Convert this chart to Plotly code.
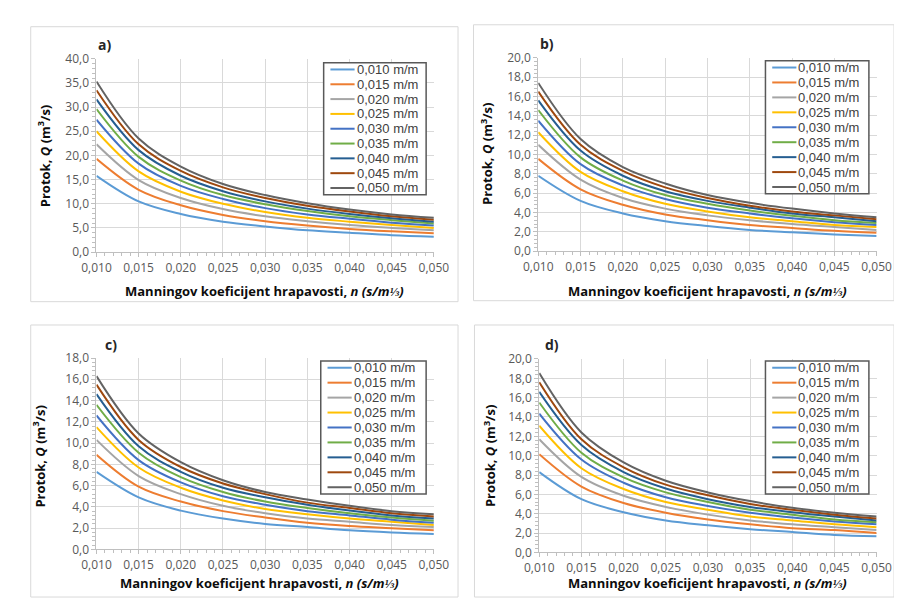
import plotly.graph_objects as go

# ---------------- data ----------------
n_values = [0.010, 0.015, 0.020, 0.025, 0.030, 0.035, 0.040, 0.045, 0.050]
slope_labels = ["0,010 m/m", "0,015 m/m", "0,020 m/m", "0,025 m/m", "0,030 m/m",
                "0,035 m/m", "0,040 m/m", "0,045 m/m", "0,050 m/m"]

q_a = [
    [15.8, 10.5, 7.9, 6.3, 5.3, 4.5, 4.0, 3.5, 3.2],
    [19.3, 12.9, 9.7, 7.7, 6.4, 5.5, 4.8, 4.3, 3.9],
    [22.3, 14.9, 11.2, 8.9, 7.4, 6.4, 5.6, 5.0, 4.5],
    [25.0, 16.7, 12.5, 10.0, 8.3, 7.1, 6.3, 5.6, 5.0],
    [27.4, 18.3, 13.7, 11.0, 9.1, 7.8, 6.9, 6.1, 5.5],
    [29.6, 19.7, 14.8, 11.8, 9.9, 8.5, 7.4, 6.6, 5.9],
    [31.6, 21.1, 15.8, 12.6, 10.5, 9.0, 7.9, 7.0, 6.3],
    [33.5, 22.3, 16.8, 13.4, 11.2, 9.6, 8.4, 7.4, 6.7],
    [35.3, 23.5, 17.7, 14.1, 11.8, 10.1, 8.8, 7.8, 7.1],
]
q_b = [
    [7.8, 5.2, 3.9, 3.1, 2.6, 2.2, 1.95, 1.73, 1.56],
    [9.55, 6.4, 4.8, 3.8, 3.2, 2.7, 2.4, 2.1, 1.9],
    [11.0, 7.4, 5.5, 4.4, 3.7, 3.2, 2.8, 2.5, 2.2],
    [12.3, 8.2, 6.2, 4.9, 4.1, 3.5, 3.1, 2.7, 2.5],
    [13.5, 9.0, 6.8, 5.4, 4.5, 3.9, 3.4, 3.0, 2.7],
    [14.6, 9.7, 7.3, 5.8, 4.9, 4.2, 3.65, 3.2, 2.9],
    [15.6, 10.4, 7.8, 6.2, 5.2, 4.5, 3.9, 3.5, 3.1],
    [16.5, 11.0, 8.3, 6.6, 5.5, 4.7, 4.1, 3.7, 3.3],
    [17.4, 11.6, 8.7, 7.0, 5.8, 5.0, 4.4, 3.9, 3.5],
]
q_c = [
    [7.3, 4.9, 3.65, 2.9, 2.4, 2.1, 1.8, 1.6, 1.46],
    [8.9, 5.9, 4.5, 3.6, 3.0, 2.5, 2.2, 2.0, 1.8],
    [10.3, 6.9, 5.2, 4.1, 3.4, 2.9, 2.6, 2.3, 2.1],
    [11.5, 7.7, 5.8, 4.6, 3.8, 3.3, 2.9, 2.6, 2.3],
    [12.6, 8.4, 6.3, 5.0, 4.2, 3.6, 3.2, 2.8, 2.5],
    [13.6, 9.1, 6.8, 5.4, 4.5, 3.9, 3.4, 3.0, 2.7],
    [14.6, 9.7, 7.3, 5.8, 4.9, 4.2, 3.65, 3.2, 2.9],
    [15.5, 10.3, 7.75, 6.2, 5.2, 4.4, 3.9, 3.4, 3.1],
    [16.3, 10.9, 8.2, 6.5, 5.4, 4.7, 4.1, 3.6, 3.3],
]
q_d = [
    [8.3, 5.5, 4.15, 3.3, 2.8, 2.4, 2.1, 1.8, 1.66],
    [10.15, 6.8, 5.1, 4.1, 3.4, 2.9, 2.5, 2.3, 2.0],
    [11.7, 7.8, 5.85, 4.7, 3.9, 3.3, 2.9, 2.6, 2.3],
    [13.1, 8.7, 6.55, 5.2, 4.4, 3.7, 3.3, 2.9, 2.6],
    [14.35, 9.6, 7.2, 5.7, 4.8, 4.1, 3.6, 3.2, 2.9],
    [15.5, 10.3, 7.75, 6.2, 5.2, 4.4, 3.9, 3.4, 3.1],
    [16.6, 11.1, 8.3, 6.6, 5.5, 4.7, 4.15, 3.7, 3.3],
    [17.6, 11.7, 8.8, 7.0, 5.9, 5.0, 4.4, 3.9, 3.5],
    [18.55, 12.4, 9.3, 7.4, 6.2, 5.3, 4.6, 4.1, 3.7],
]

panel_labels = ["a)", "b)", "c)", "d)"]
panel_data = [q_a, q_b, q_c, q_d]
y_max = [40, 20, 18, 20]
y_major = [5, 2, 2, 2]

colors = ["#5B9BD5", "#ED7D31", "#A5A5A5", "#FFC000", "#4472C4",
          "#70AD47", "#255E91", "#9E480E", "#636363"]

# ---------------- layout geometry (pixels) ----------------
W, H = 902, 598
FONT = "Open Sans"
LEG_FONT = "Liberation Sans"
def px(x):
    return x / W
def py(y):
    return 1 - y / H

# plot areas: (left, right, top, bottom)
areas = [(76, 425, 43, 242), (533, 883, 42, 241), (76, 425, 351, 548), (534, 883, 352, 551)]
frames = [(8, 10, 450, 293), (466, 8, 901, 292), (8, 317, 450, 597), (467, 317, 901, 597)]
legend_boxes = [(311, 47, 417, 183), (768, 45, 875, 182), (308, 354, 417, 491), (768, 354, 875, 491)]
label_pos = [(75, 28), (533, 27), (83, 337), (538, 337)]
xtitle_pos = [(250, 282), (708, 282), (245, 583), (708, 583)]
ytitle_pos = [(22, 143), (480, 141), (16, 452), (482, 452)]

fig = go.Figure()
shapes = []
annotations = []
layout_axes = {}

for p in range(4):
    sfx = "" if p == 0 else str(p + 1)
    xa, ya = "x" + sfx, "y" + sfx
    for i, lab in enumerate(slope_labels):
        fig.add_trace(go.Scatter(
            x=n_values, y=panel_data[p][i], mode="lines", name=lab,
            line=dict(color=colors[i], width=2, shape="spline", smoothing=1.0),
            xaxis=xa, yaxis=ya, showlegend=False, hoverinfo="x+y+name"))

    l, r, t, b = areas[p]
    layout_axes["xaxis" + sfx] = dict(
        domain=[px(l), px(r)], anchor=ya, range=[0.010, 0.050],
        tickmode="linear", tick0=0.010, dtick=0.005, tickformat=".3f",
        showgrid=True, gridcolor="#D9D9D9", gridwidth=1,
        showline=True, linecolor="#BFBFBF", linewidth=1,
        ticks="outside", ticklen=4, tickcolor="#BFBFBF",
        minor=dict(ticks="outside", dtick=0.001, ticklen=3, tickcolor="#BFBFBF", showgrid=False),
        tickfont=dict(family=FONT, size=12, color="#595959"),
        zeroline=False, fixedrange=True)
    layout_axes["yaxis" + sfx] = dict(
        domain=[py(b), py(t)], anchor=xa, range=[0, y_max[p]],
        tickmode="linear", tick0=0, dtick=y_major[p], tickformat=".1f",
        showgrid=True, gridcolor="#D9D9D9", gridwidth=1,
        showline=True, linecolor="#BFBFBF", linewidth=1,
        ticks="outside", ticklen=4, tickcolor="#BFBFBF",
        minor=dict(ticks="outside", dtick=y_major[p] / 5, ticklen=3, tickcolor="#BFBFBF", showgrid=False),
        tickfont=dict(family=FONT, size=12, color="#595959"),
        zeroline=False, fixedrange=True)

    # panel frame
    fx0, fy0, fx1, fy1 = frames[p]
    shapes.append(dict(type="rect", xref="paper", yref="paper",
                       x0=px(fx0), x1=px(fx1), y0=py(fy1), y1=py(fy0),
                       line=dict(color="#D9D9D9", width=1), layer="below"))

    # panel label
    lx, ly = label_pos[p]
    annotations.append(dict(text="<b>" + panel_labels[p] + "</b>", xref="paper", yref="paper",
                            x=px(lx), y=py(ly), xanchor="left", yanchor="middle",
                            showarrow=False, font=dict(family=FONT, size=14, color="#262626")))
    # axis titles
    tx, ty = xtitle_pos[p]
    annotations.append(dict(text="<b>Manningov koeficijent hrapavosti, <i>n (s/m⅓)</i></b>",
                            xref="paper", yref="paper", x=px(tx), y=py(ty),
                            xanchor="center", yanchor="middle", showarrow=False,
                            font=dict(family=FONT, size=13, color="#0D0D0D")))
    vx, vy = ytitle_pos[p]
    annotations.append(dict(text="<b>Protok, <i>Q</i> (m<sup>3</sup>/s)</b>",
                            xref="paper", yref="paper", x=px(vx), y=py(vy), textangle=-90,
                            xanchor="center", yanchor="middle", showarrow=False,
                            font=dict(family=FONT, size=13, color="#0D0D0D")))

    # legend box (drawn as shapes + text)
    bx0, by0, bx1, by1 = legend_boxes[p]
    shapes.append(dict(type="rect", xref="paper", yref="paper",
                       x0=px(bx0), x1=px(bx1), y0=py(by1), y1=py(by0),
                       line=dict(color="#595959", width=1.5), fillcolor="white", layer="above"))
    step = (by1 - by0 - 14) / 8
    for i, lab in enumerate(slope_labels):
        iy = by0 + 7 + i * step
        shapes.append(dict(type="line", xref="paper", yref="paper",
                           x0=px(bx0 + 7), x1=px(bx0 + 32), y0=py(iy), y1=py(iy),
                           line=dict(color=colors[i], width=2), layer="above"))
        annotations.append(dict(text=lab, xref="paper", yref="paper",
                                x=px(bx0 + 33), y=py(iy), xanchor="left", yanchor="middle",
                                showarrow=False, borderpad=0,
                                font=dict(family=LEG_FONT, size=13, color="#404040")))

fig.update_layout(
    width=W, height=H, margin=dict(l=0, r=0, t=0, b=0),
    paper_bgcolor="white", plot_bgcolor="white",
    separators=",.", showlegend=False,
    shapes=shapes, annotations=annotations,
    **layout_axes)

fig.write_html("out.html")
